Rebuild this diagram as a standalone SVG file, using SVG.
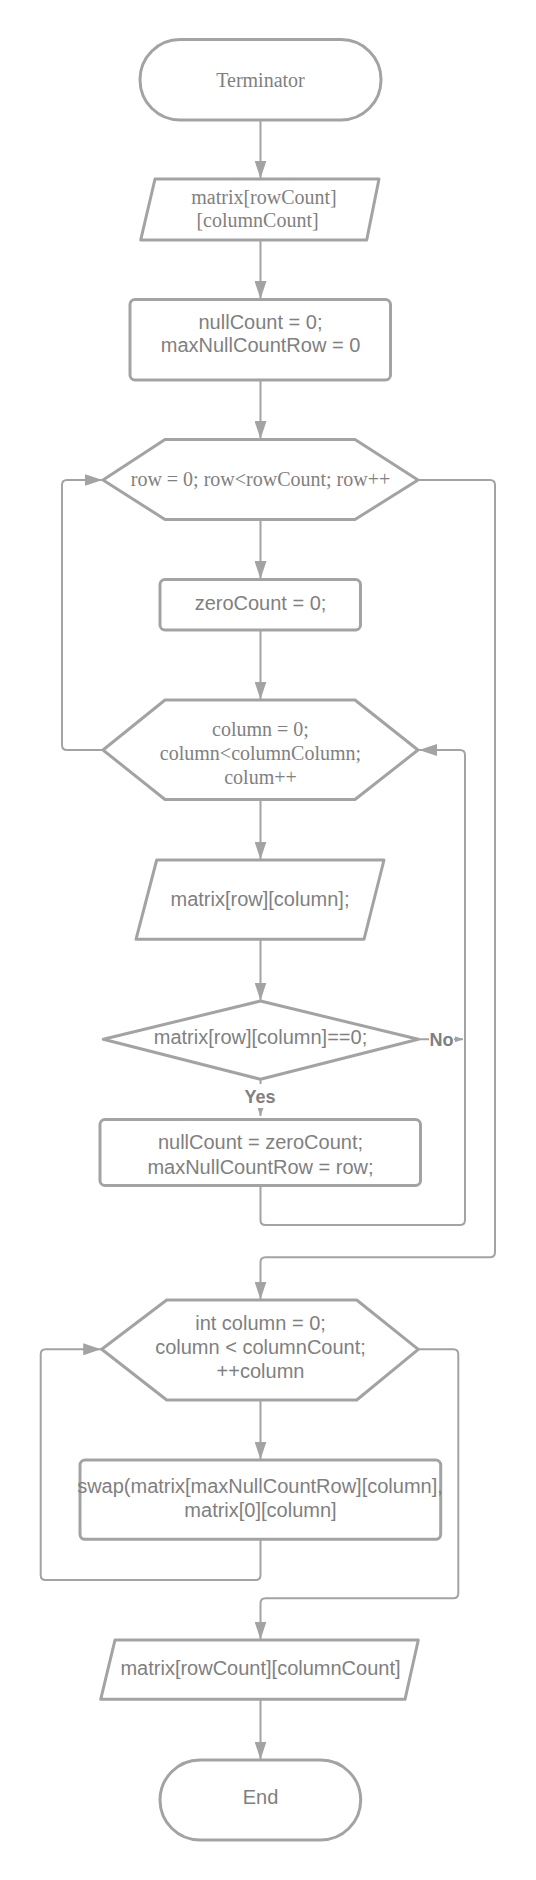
<svg xmlns="http://www.w3.org/2000/svg" width="536" height="1880" viewBox="0 0 536 1880">
<defs>
<style>
.shape{fill:#ffffff;stroke:#a3a3a3;stroke-width:3;stroke-linejoin:round}
.conn{fill:none;stroke:#a3a3a3;stroke-width:2}
.serif{font-family:"Liberation Serif","Times New Roman",serif;font-size:20px;fill:#808080;text-anchor:middle}
.sans{font-family:"Liberation Sans",Arial,sans-serif;font-size:20px;fill:#808080;text-anchor:middle}
.lbl{font-family:"Liberation Sans",Arial,sans-serif;font-size:18px;font-weight:bold;fill:#808080;text-anchor:middle}
</style>
<marker id="arr" markerUnits="userSpaceOnUse" markerWidth="18" markerHeight="12" refX="18" refY="6" orient="auto">
<path d="M0,0 L18,6 L0,12 z" fill="#a3a3a3"/>
</marker>
<marker id="sarr" markerUnits="userSpaceOnUse" markerWidth="8" markerHeight="6" refX="8" refY="3" orient="auto">
<path d="M0,0 L8,3 L0,6 z" fill="#a3a3a3"/>
</marker>
</defs>
<rect width="536" height="1880" fill="#ffffff"/>

<g id="connectors">
<line class="conn" x1="260.5" y1="120" x2="260.5" y2="178.5" marker-end="url(#arr)"/>
<line class="conn" x1="260.5" y1="240" x2="260.5" y2="299" marker-end="url(#arr)"/>
<line class="conn" x1="260.5" y1="380" x2="260.5" y2="439" marker-end="url(#arr)"/>
<line class="conn" x1="260.5" y1="519.5" x2="260.5" y2="579" marker-end="url(#arr)"/>
<line class="conn" x1="260.5" y1="630" x2="260.5" y2="699.5" marker-end="url(#arr)"/>
<path class="conn" d="M103,750 H67 Q62,750 62,745 V485 Q62,480 67,480 H102.5" marker-end="url(#arr)"/>
<path class="conn" d="M418,480 H490 Q495,480 495,485 V1252.3 Q495,1257.3 490,1257.3 H265.5 Q260.5,1257.3 260.5,1262.3 V1299.5" marker-end="url(#arr)"/>
<line class="conn" x1="260.5" y1="799.5" x2="260.5" y2="859.5" marker-end="url(#arr)"/>
<line class="conn" x1="260.5" y1="939.3" x2="260.5" y2="1000.5" marker-end="url(#arr)"/>
<line class="conn" x1="418.3" y1="1039.3" x2="463" y2="1039.3" marker-end="url(#sarr)"/>
<line class="conn" x1="260.5" y1="1079.3" x2="260.5" y2="1116" marker-end="url(#sarr)"/>
<path class="conn" d="M260.5,1186 V1220 Q260.5,1225 265.5,1225 H460 Q465,1225 465,1220 V755 Q465,750 460,750 H419" marker-end="url(#arr)"/>
<line class="conn" x1="260.5" y1="1400" x2="260.5" y2="1459.5" marker-end="url(#arr)"/>
<path class="conn" d="M260.5,1539.3 V1575 Q260.5,1580 255.5,1580 H45.7 Q40.7,1580 40.7,1575 V1354.3 Q40.7,1349.3 45.7,1349.3 H101.2" marker-end="url(#arr)"/>
<path class="conn" d="M418.3,1349.3 H453.3 Q458.3,1349.3 458.3,1354.3 V1593.3 Q458.3,1598.3 453.3,1598.3 H265.5 Q260.5,1598.3 260.5,1603.3 V1639.5" marker-end="url(#arr)"/>
<line class="conn" x1="260.5" y1="1699.3" x2="260.5" y2="1759.5" marker-end="url(#arr)"/>
<rect x="429" y="1028" width="25" height="22" fill="#ffffff"/>
<text class="lbl" x="441.5" y="1045.5">No</text>
<rect x="242" y="1084" width="37" height="24" fill="#ffffff"/>
<text class="lbl" x="260" y="1103">Yes</text>
</g>

<g id="start">
<rect class="shape" x="140" y="39.5" width="241" height="80.5" rx="40" ry="40"/>
<text class="serif" x="260.5" y="87">Terminator</text>
</g>

<g id="input-matrix">
<polygon class="shape" points="155,179 379,179 366.7,240 140.7,240"/>
<text class="serif" x="264" y="203.7">matrix[rowCount]</text>
<text class="serif" x="257.5" y="227">[columnCount]</text>
</g>

<g id="init">
<rect class="shape" x="130" y="299.5" width="260.5" height="80.5" rx="5" ry="5"/>
<text class="sans" x="260.5" y="328.7">nullCount = 0;</text>
<text class="sans" x="260.5" y="352">maxNullCountRow = 0</text>
</g>

<g id="row-loop">
<polygon class="shape" points="103,480 165,439.5 355,439.5 418,480 355,519.5 165,519.5"/>
<text class="serif" x="260.5" y="486">row = 0; row&lt;rowCount; row++</text>
</g>

<g id="zero-count">
<rect class="shape" x="160" y="579.5" width="200.5" height="50.5" rx="5" ry="5"/>
<text class="sans" x="260.5" y="610">zeroCount = 0;</text>
</g>

<g id="column-loop">
<polygon class="shape" points="103,750 165,700 355,700 418,750 355,799.5 165,799.5"/>
<text class="serif" x="260.5" y="736">column = 0;</text>
<text class="serif" x="260.5" y="760">column&lt;columnColumn;</text>
<text class="serif" x="260.5" y="784">colum++</text>
</g>

<g id="read-cell">
<polygon class="shape" points="156.7,860 384,860 364,939.3 136,939.3"/>
<text class="sans" x="260" y="906">matrix[row][column];</text>
</g>

<g id="is-zero">
<polygon class="shape" points="260.5,1001 418.3,1039.3 260.5,1079.3 103.3,1039.3"/>
<text class="sans" x="260.5" y="1044">matrix[row][column]==0;</text>
</g>

<g id="assign">
<rect class="shape" x="100" y="1119.5" width="320.5" height="66" rx="5" ry="5"/>
<text class="sans" x="260.5" y="1148.5">nullCount = zeroCount;</text>
<text class="sans" x="260.5" y="1173.5">maxNullCountRow = row;</text>
</g>

<g id="swap-loop">
<polygon class="shape" points="101.7,1349.3 166.7,1300 356.7,1300 418.3,1349.3 356.7,1400 166.7,1400"/>
<text class="sans" x="260.5" y="1330.3">int column = 0;</text>
<text class="sans" x="260.5" y="1353.7">column &lt; columnCount;</text>
<text class="sans" x="260.5" y="1378">++column</text>
</g>

<g id="swap">
<rect class="shape" x="80" y="1460" width="360.7" height="79.3" rx="5" ry="5"/>
<text class="sans" x="260" y="1493">swap(matrix[maxNullCountRow][column],</text>
<text class="sans" x="260.5" y="1517">matrix[0][column]</text>
</g>

<g id="output-matrix">
<polygon class="shape" points="115,1640 418.3,1640 405,1699.3 100.7,1699.3"/>
<text class="sans" x="260.5" y="1674.5">matrix[rowCount][columnCount]</text>
</g>

<g id="end">
<rect class="shape" x="160" y="1760" width="200.7" height="80" rx="40" ry="40"/>
<text class="sans" x="260.5" y="1803.5">End</text>
</g>
</svg>
